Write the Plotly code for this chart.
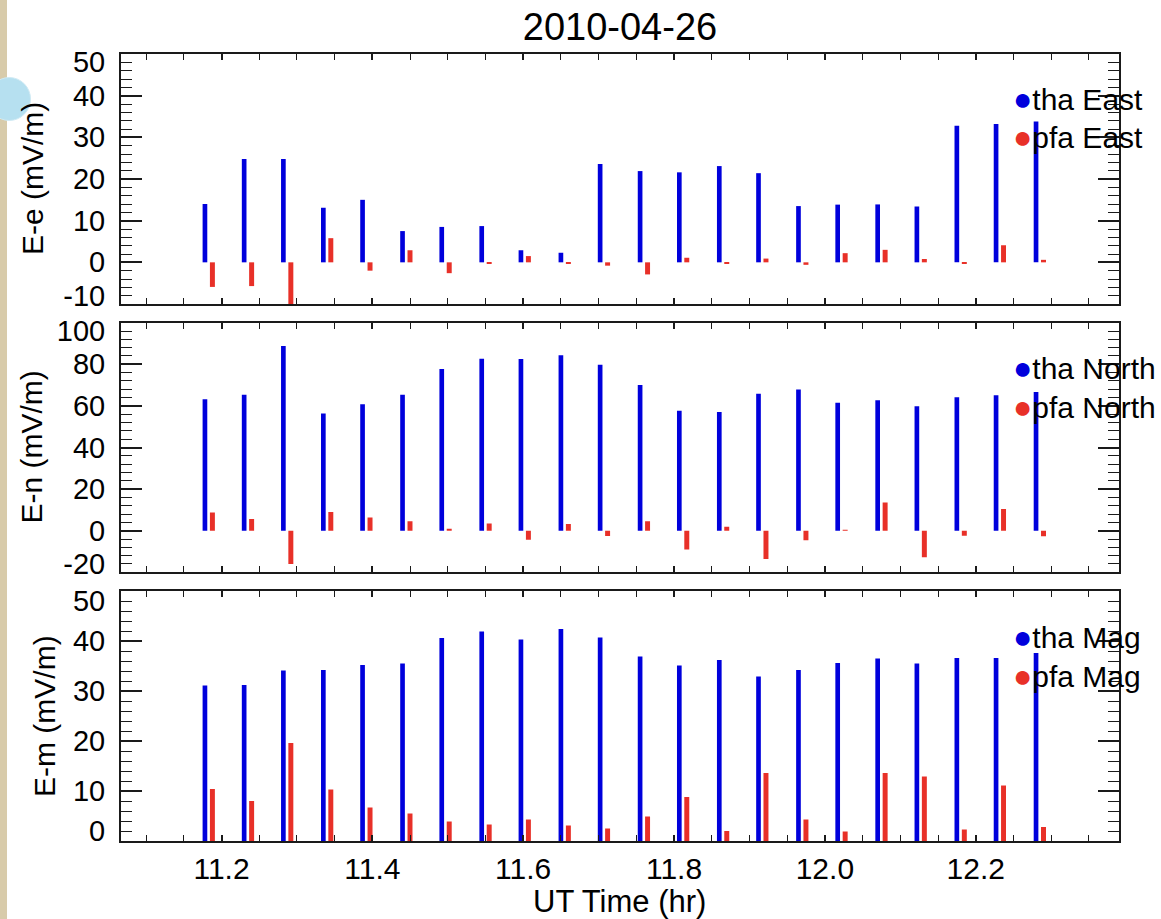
import plotly.graph_objects as go

# ---------------- data ----------------
ut_hours = [11.178, 11.230, 11.282, 11.335, 11.387, 11.440, 11.492, 11.545,
            11.597, 11.650, 11.702, 11.755, 11.807, 11.860, 11.912, 11.965,
            12.017, 12.070, 12.122, 12.175, 12.227, 12.280]

tha_east = [14.0, 24.8, 24.8, 13.1, 15.0, 7.5, 8.5, 8.7, 2.9, 2.3, 23.6,
            21.9, 21.6, 23.1, 21.4, 13.5, 13.85, 13.9, 13.4, 32.8, 33.2, 33.8]
pfa_east = [-5.9, -5.7, -12.0, 5.8, -2.0, 2.9, -2.6, -0.2, 1.5, -0.3, -0.8,
            -2.9, 1.1, -0.3, 0.9, -0.6, 2.2, 3.0, 0.8, -0.4, 4.1, 0.6]

tha_north = [63.2, 65.4, 88.8, 56.3, 60.8, 65.4, 77.7, 82.7, 82.5, 84.3, 79.8,
             70.0, 57.7, 57.1, 65.9, 67.9, 61.5, 62.7, 59.8, 64.1, 65.1, 66.7]
pfa_north = [8.8, 5.6, -16.0, 9.0, 6.4, 4.6, 0.6, 3.5, -4.3, 3.2, -2.6,
             4.5, -9.0, 1.9, -13.6, -4.6, 0.3, 13.5, -12.8, -2.4, 10.4, -2.7]

tha_mag = [31.1, 31.2, 34.1, 34.2, 35.2, 35.5, 40.6, 41.9, 40.3, 42.4, 40.7,
           36.9, 35.1, 36.2, 32.9, 34.2, 35.6, 36.5, 35.5, 36.6, 36.6, 37.6]
pfa_mag = [10.4, 8.0, 19.6, 10.3, 6.7, 5.5, 3.9, 3.3, 4.3, 3.1, 2.5,
           4.9, 8.8, 2.0, 13.6, 4.3, 1.9, 13.6, 12.9, 2.3, 11.1, 2.8]

panel_titles = ["E-e (mV/m)", "E-n (mV/m)", "E-m (mV/m)"]
legend_names = [("tha East", "pfa East"), ("tha North", "pfa North"), ("tha Mag", "pfa Mag")]

# tick labels (end labels sit one minor tick inside the frame, as in the reference)
ytick_vals = [[-8, 0, 10, 20, 30, 40, 48],
              [-16, 0, 20, 40, 60, 80, 96],
              [2, 10, 20, 30, 40, 48]]
ytick_text = [["-10", "0", "10", "20", "30", "40", "50"],
              ["-20", "0", "20", "40", "60", "80", "100"],
              ["0", "10", "20", "30", "40", "50"]]
y_ranges = [[-10, 50], [-20, 100], [0, 50]]
y_major = [10, 20, 10]
y_minor = [2, 4, 2]
x_range = [11.0667, 12.39]

# ---------------- style ----------------
FONT = "Liberation Sans, Arial, Helvetica, sans-serif"
BLUE = "rgb(0,0,220)"
RED = "rgb(232,48,40)"
AXCOL = "#1a1a1a"

W, H = 1161, 919
ML, MR, MT, MB = 121, 42, 54, 78
PW, PH = W - ML - MR, H - MT - MB


def px_x(px):
    return (px - ML) / PW


def px_y(py):
    return (H - MB - py) / PH


domains = [[px_y(304), px_y(54)], [px_y(572.3), px_y(322.7)], [px_y(841), px_y(591)]]

east_north_mag = [(tha_east, pfa_east), (tha_north, pfa_north), (tha_mag, pfa_mag)]

fig = go.Figure()
for i, (tha, pfa) in enumerate(east_north_mag):
    xa = "x" if i == 0 else f"x{i+1}"
    ya = "y" if i == 0 else f"y{i+1}"
    fig.add_trace(go.Bar(x=ut_hours, y=tha, xaxis=xa, yaxis=ya, width=0.0062,
                         offset=-0.0031, marker=dict(color=BLUE, line=dict(width=0)),
                         name=legend_names[i][0], showlegend=False))
    fig.add_trace(go.Bar(x=ut_hours, y=pfa, xaxis=xa, yaxis=ya, width=0.0066,
                         offset=0.0066, marker=dict(color=RED, line=dict(width=0)),
                         name=legend_names[i][1], showlegend=False))
    # empty trace to activate the overlay axis carrying the tick marks
    fig.add_trace(go.Scatter(x=[None], y=[None], xaxis=xa, yaxis=f"y{i+4}",
                             showlegend=False, hoverinfo="skip"))

layout = dict(
    width=W, height=H,
    margin=dict(l=ML, r=MR, t=MT, b=MB),
    paper_bgcolor="white", plot_bgcolor="white",
    barmode="overlay", showlegend=False,
    font=dict(family=FONT, color="black"),
    title=dict(text="2010-04-26", x=0.5, xref="paper", xanchor="center",
               y=1 - 27 / H, yanchor="middle", font=dict(size=38, family=FONT, color="black")),
)

for i in range(3):
    xkey = "xaxis" if i == 0 else f"xaxis{i+1}"
    ykey = "yaxis" if i == 0 else f"yaxis{i+1}"
    ya = "y" if i == 0 else f"y{i+1}"
    xa = "x" if i == 0 else f"x{i+1}"
    layout[xkey] = dict(
        domain=[0, 1], anchor=ya, range=x_range, showgrid=False, zeroline=False,
        showline=True, linecolor=AXCOL, linewidth=2, mirror="allticks",
        tickmode="linear", tick0=11.2, dtick=0.2, ticks="inside", ticklen=6,
        tickwidth=1.5, tickcolor=AXCOL,
        minor=dict(tick0=11.2, dtick=0.05, ticks="inside", ticklen=3, tickwidth=1.2,
                   tickcolor=AXCOL, showgrid=False),
        showticklabels=(i == 2), tickformat=".1f",
        tickfont=dict(size=30, family=FONT, color="black"),
    )
    if i > 0:
        layout[xkey]["matches"] = "x"
    layout[ykey] = dict(
        domain=domains[i], anchor=xa, range=y_ranges[i], showgrid=False,
        zeroline=False, showline=True, linecolor=AXCOL, linewidth=2, mirror=True,
        tickmode="array", tickvals=ytick_vals[i], ticktext=ytick_text[i],
        ticks="", ticklabelstandoff=8,
        tickfont=dict(size=29, family=FONT, color="black"),
    )
    layout[f"yaxis{i+4}"] = dict(
        overlaying=ya, anchor=xa, side="left", range=y_ranges[i], showgrid=False,
        zeroline=False, showline=True, linecolor=AXCOL, linewidth=2,
        mirror="allticks", showticklabels=False,
        tickmode="linear", tick0=0, dtick=y_major[i], ticks="inside", ticklen=21,
        tickwidth=1.5, tickcolor=AXCOL,
        minor=dict(tick0=0, dtick=y_minor[i], ticks="inside", ticklen=11,
                   tickwidth=1.2, tickcolor=AXCOL, showgrid=False),
    )

annotations = []
ytitle_pos = [(33, 179), (31, 447.5), (44, 716)]
for i, (cx, cy) in enumerate(ytitle_pos):
    annotations.append(dict(text=panel_titles[i], xref="paper", yref="paper",
                            x=px_x(cx), y=px_y(cy), xanchor="center", yanchor="middle",
                            textangle=-90, showarrow=False,
                            font=dict(size=30, family=FONT, color="black")))
annotations.append(dict(text="UT Time (hr)", xref="paper", yref="paper",
                        x=px_x(619), y=px_y(902), xanchor="center", yanchor="middle",
                        showarrow=False, font=dict(size=31, family=FONT, color="black")))

legend_rows = [(98.5, 137.0), (367.8, 406.8), (637.2, 676.2)]
for i, (r1, r2) in enumerate(legend_rows):
    for name, col, ry in ((legend_names[i][0], BLUE, r1), (legend_names[i][1], RED, r2)):
        annotations.append(dict(
            text=f'<span style="font-size:32px;color:{col}">●</span>{name}',
            xref="paper", yref="paper", x=px_x(1011), y=px_y(ry),
            xanchor="left", yanchor="middle", showarrow=False,
            font=dict(size=30, family=FONT, color="black")))
layout["annotations"] = annotations

layout["shapes"] = [
    dict(type="rect", xref="paper", yref="paper", layer="below",
         x0=px_x(0), x1=px_x(7), y0=px_y(H), y1=px_y(0),
         fillcolor="#d8cbaa", line=dict(width=0)),
    dict(type="circle", xref="paper", yref="paper", layer="below",
         x0=px_x(-12), x1=px_x(30.5), y0=px_y(120.5), y1=px_y(77.5),
         fillcolor="#b6e0f0", line=dict(width=1, color="#cfeaf4")),
]

fig.update_layout(**layout)
fig.write_html("out.html")
